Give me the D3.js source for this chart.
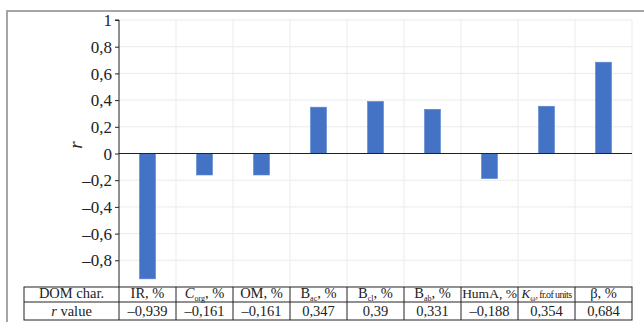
<!DOCTYPE html>
<html>
<head>
<meta charset="utf-8">
<script src="https://cdn.jsdelivr.net/npm/d3@7"></script>
<style>
  html, body { margin: 0; padding: 0; background: #fff; }
  svg { display: block; }
  svg text { font-family: "Liberation Serif", "Times New Roman", serif !important; }
</style>
</head>
<body>
<svg id="chart" width="644" height="322"></svg>
<script>
// Correlation of DOM characteristics with r
const categories = ["IR", "Corg", "OM", "Bac", "Bcl", "Bab", "HumA", "Kw", "beta"];
const rValues = [-0.939, -0.161, -0.161, 0.347, 0.39, 0.331, -0.188, 0.354, 0.684];
const rLabels = ["–0,939", "–0,161", "–0,161", "0,347", "0,39", "0,331", "–0,188", "0,354", "0,684"];
const yTicks = [-0.8, -0.6, -0.4, -0.2, 0, 0.2, 0.4, 0.6, 0.8, 1];

// header cells: [main, subscript, rest, italicMain, smallRest]
const headerParts = [
  ["IR", "", ", %", false, false],
  ["C", "org", ", %", true, false],
  ["OM", "", ", %", false, false],
  ["B", "ac", ", %", false, false],
  ["B", "cl", ", %", false, false],
  ["B", "ab", ", %", false, false],
  ["HumA", "", ", %", false, false],
  ["K", "ω", ", fr.of units", true, true],
  ["β", "", ", %", false, false]
];

const svg = d3.select("#chart");
const plotL = 119, plotR = 632, plotT = 20, plotB = 287;
const tableLeft = 24;
const tY0 = plotB, tY1 = 302, tY2 = 320;

// outer frame
svg.append("path")
  .attr("d", `M7,330 L7,11 L650,11`)
  .attr("fill", "none").attr("stroke", "#a6a6a6").attr("stroke-width", 2);

const x = d3.scaleBand().domain(categories).range([plotL, plotR]).paddingInner(0).paddingOuter(0);
const y = d3.scaleLinear().domain([-1, 1]).range([plotB, plotT]);

// gridlines
const g = svg.append("g");
g.selectAll("line.h").data(yTicks.filter(v => v !== 0)).join("line")
  .attr("x1", plotL).attr("x2", plotR)
  .attr("y1", d => y(d)).attr("y2", d => y(d))
  .attr("stroke", "#ebebeb").attr("stroke-width", 1);
g.selectAll("line.v").data(categories).join("line")
  .attr("x1", d => x(d) + x.bandwidth())
  .attr("x2", d => x(d) + x.bandwidth())
  .attr("y1", plotT).attr("y2", plotB)
  .attr("stroke", "#ebebeb");

// bars
const barW = 16;
svg.append("g").selectAll("rect").data(categories).join("rect")
  .attr("x", d => x(d) + x.bandwidth() / 2 - barW / 2)
  .attr("width", barW)
  .attr("y", (d, i) => y(Math.max(0, rValues[i])))
  .attr("height", (d, i) => Math.abs(y(rValues[i]) - y(0)))
  .attr("fill", "#4472c4")
  .attr("stroke", "#5b86d0").attr("stroke-width", 0.6);

// zero line
svg.append("line").attr("x1", plotL).attr("x2", plotR)
  .attr("y1", y(0)).attr("y2", y(0)).attr("stroke", "#222").attr("stroke-width", 1.2);

// y axis
const yAxis = d3.axisLeft(y).tickValues(yTicks).tickSize(4).tickPadding(3)
  .tickFormat(d => (d < 0 ? "–" : "") + String(Math.abs(+d.toFixed(1))).replace(".", ","));
const ya = svg.append("g").attr("transform", `translate(${plotL},0)`).call(yAxis);
ya.select(".domain").attr("stroke", "#222").attr("d", `M-4,${y(1)}H0V${plotB}`);
ya.selectAll(".tick line").attr("stroke", "#222");
ya.selectAll(".tick text").attr("font-size", 17).attr("fill", "#222").attr("dy", "0.33em");

// axis title
svg.append("text").attr("transform", `translate(82,145) rotate(-90)`)
  .attr("text-anchor", "middle").attr("font-size", 19).attr("font-style", "italic").attr("fill", "#222")
  .text("r");

// table
const tbl = svg.append("g");
tbl.append("rect").attr("x", tableLeft).attr("y", tY0).attr("width", plotR - tableLeft).attr("height", tY2 - tY0)
  .attr("fill", "#fff").attr("stroke", "#222").attr("stroke-width", 1);
tbl.append("line").attr("x1", tableLeft).attr("x2", plotR).attr("y1", tY1).attr("y2", tY1).attr("stroke", "#222");
tbl.selectAll("line.c").data(categories).join("line")
  .attr("x1", d => x(d)).attr("x2", d => x(d)).attr("y1", tY0).attr("y2", tY2).attr("stroke", "#222");

const fs = 14.5;
const hBase = 298, vBase = 316;
function cellText(cx, base) {
  return tbl.append("text")
    .attr("x", cx).attr("y", base)
    .attr("text-anchor", "middle").attr("font-size", fs).attr("fill", "#222");
}
cellText((tableLeft + plotL) / 2, hBase).text("DOM char.");
const rv = cellText((tableLeft + plotL) / 2, vBase);
rv.append("tspan").attr("font-style", "italic").text("r");
rv.append("tspan").text(" value");

categories.forEach((c, i) => {
  const [main, sub, rest, ital, small] = headerParts[i];
  const cx = x(c) + x.bandwidth() / 2;
  const t = cellText(cx, hBase).attr("font-size", small ? 13 : (main === "HumA" ? 13.5 : fs));
  t.append("tspan").attr("font-style", ital ? "italic" : null).text(main);
  if (sub) t.append("tspan").attr("font-size", 8).attr("dy", 2.5).text(sub);
  const r = t.append("tspan").attr("dy", sub ? -2.5 : 0).text(rest);
  if (small) r.attr("font-size", 10).attr("letter-spacing", -0.6);
  cellText(cx, vBase).text(rLabels[i]);
});
</script>
</body>
</html>
